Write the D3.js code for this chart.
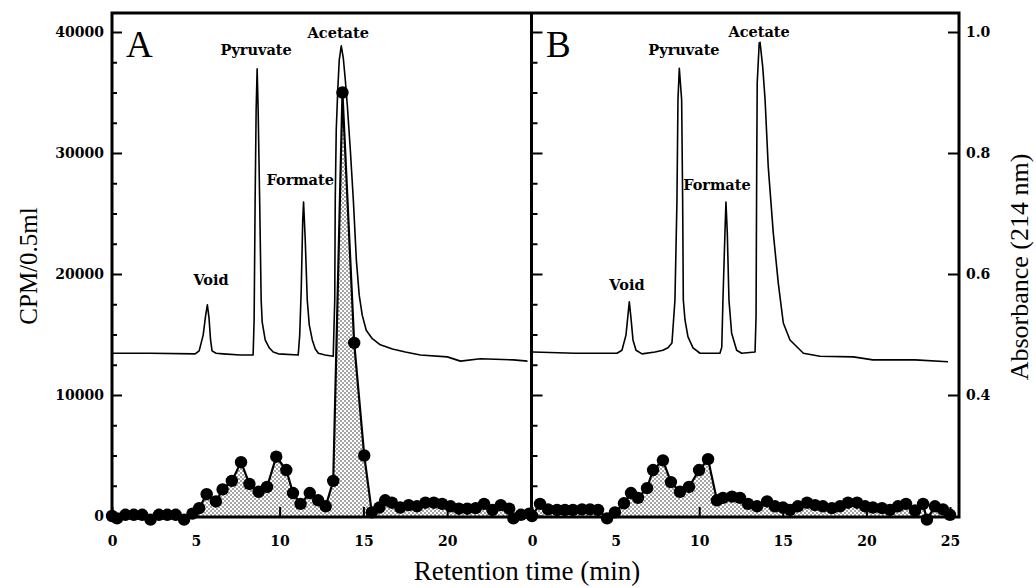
<!DOCTYPE html>
<html>
<head>
<meta charset="utf-8">
<script src="https://cdn.jsdelivr.net/npm/d3@7"></script>
<style>
	body{margin:0;background:#fff;}
	svg{display:block;}
</style>
</head>
<body>
<div id="chart"></div>
<script>

//radioactivity fractions, panel A (time in min, CPM/0.5ml)
const timeA = [0.0, 0.3, 0.8, 1.3, 1.8, 2.3, 2.8, 3.3, 3.8, 4.3, 4.8, 5.2, 5.65, 6.2, 6.6, 7.15, 7.7, 8.2, 8.75, 9.25, 9.8, 10.4, 10.8, 11.25, 11.8, 12.3, 12.75, 13.2, 13.75, 14.45, 15.05, 15.5, 15.95, 16.3, 16.7, 17.2, 17.7, 18.2, 18.7, 19.2, 19.7, 20.2, 20.7, 21.2, 21.7, 22.2, 22.7, 23.2, 23.7, 23.95, 24.4, 24.9];
const cpmA = [0, -200, 100, 100, 100, -300, 100, 100, 100, -300, 200, 650, 1800, 1200, 2200, 2900, 4450, 2650, 2000, 2400, 4900, 3800, 1900, 1000, 1900, 1300, 800, 2900, 35000, 14300, 5000, 300, 700, 1300, 1100, 700, 900, 800, 1100, 1100, 1000, 800, 600, 600, 650, 1000, 500, 900, 600, -200, 100, 200];

//radioactivity fractions, panel B
const timeB = [0.0, 0.48, 0.96, 1.5, 1.97, 2.45, 2.99, 3.47, 3.95, 4.49, 4.96, 5.5, 5.92, 6.34, 6.88, 7.24, 7.83, 8.31, 8.85, 9.39, 9.99, 10.53, 11.06, 11.42, 11.96, 12.44, 12.92, 13.46, 14.06, 14.53, 15.01, 15.43, 15.9, 16.45, 16.93, 17.4, 17.94, 18.42, 18.9, 19.44, 19.92, 20.39, 20.93, 21.41, 21.89, 22.37, 22.91, 23.39, 23.62, 24.1, 24.58, 25.0];
const cpmB = [0, 1000, 550, 500, 500, 500, 550, 550, 500, -200, 300, 1050, 1900, 1500, 2300, 3800, 4600, 2800, 2000, 2400, 3800, 4700, 1300, 1500, 1600, 1500, 1000, 800, 1200, 800, 700, 500, 800, 1100, 900, 800, 650, 800, 1100, 1100, 800, 700, 650, 500, 800, 1000, 450, 1000, -300, 800, 550, 100];

//absorbance trace, panel A
const traceTimeA = [0.06, 2.27, 4.96, 5.20, 5.44, 5.59, 5.69, 5.79, 5.88, 5.97, 6.21, 6.63, 7.65, 8.36, 8.42, 8.48, 8.54, 8.60, 8.66, 8.72, 8.81, 8.90, 8.96, 9.14, 9.38, 9.62, 9.92, 11.11, 11.20, 11.29, 11.38, 11.43, 11.53, 11.65, 11.77, 11.95, 12.13, 12.31, 12.72, 13.20, 13.29, 13.32, 13.38, 13.47, 13.56, 13.68, 13.80, 13.92, 14.04, 14.22, 14.40, 14.58, 14.75, 14.93, 15.17, 15.53, 16.01, 16.73, 17.50, 18.40, 20.01, 20.79, 21.98, 23.95, 24.79];
const traceAbsA = [0.469, 0.469, 0.468, 0.473, 0.499, 0.532, 0.549, 0.527, 0.491, 0.473, 0.469, 0.468, 0.466, 0.466, 0.466, 0.524, 0.722, 0.871, 0.939, 0.871, 0.722, 0.557, 0.521, 0.491, 0.478, 0.471, 0.468, 0.466, 0.499, 0.574, 0.689, 0.719, 0.656, 0.557, 0.516, 0.491, 0.476, 0.469, 0.466, 0.464, 0.557, 0.722, 0.838, 0.904, 0.954, 0.977, 0.957, 0.921, 0.879, 0.805, 0.722, 0.623, 0.565, 0.532, 0.507, 0.493, 0.483, 0.476, 0.471, 0.466, 0.463, 0.456, 0.460, 0.458, 0.456];

//absorbance trace, panel B
const traceTimeB = [0.06, 2.57, 5.08, 5.38, 5.62, 5.74, 5.82, 5.92, 6.04, 6.22, 6.58, 7.36, 7.83, 8.13, 8.37, 8.55, 8.67, 8.73, 8.81, 8.95, 9.01, 9.05, 9.15, 9.33, 9.63, 10.05, 11.24, 11.35, 11.42, 11.54, 11.60, 11.68, 11.78, 11.94, 12.24, 12.54, 13.34, 13.40, 13.44, 13.47, 13.59, 13.64, 13.80, 13.94, 14.13, 14.43, 14.73, 15.03, 15.43, 16.23, 17.22, 19.22, 20.39, 22.91, 24.88];
const traceAbsB = [0.471, 0.469, 0.469, 0.474, 0.499, 0.532, 0.554, 0.527, 0.491, 0.474, 0.468, 0.471, 0.474, 0.478, 0.486, 0.557, 0.722, 0.888, 0.940, 0.888, 0.722, 0.557, 0.524, 0.496, 0.478, 0.469, 0.469, 0.479, 0.557, 0.668, 0.719, 0.668, 0.557, 0.502, 0.474, 0.469, 0.471, 0.529, 0.777, 0.916, 0.982, 0.983, 0.942, 0.888, 0.777, 0.668, 0.585, 0.519, 0.491, 0.469, 0.464, 0.463, 0.458, 0.458, 0.455];

//peak names and where they sit (time, absorbance)
const peakNames = ["Void", "Pyruvate", "Formate", "Acetate"];
const peakTimeA = [5.91, 8.60, 11.23, 13.50];
const peakAbsA = [0.582, 0.962, 0.747, 0.990];
const peakTimeB = [5.68, 9.09, 11.06, 13.58];
const peakAbsB = [0.574, 0.962, 0.739, 0.992];

//tick values
const timeTicks = [0, 5, 10, 15, 20, 25];
const cpmTicks = [0, 10000, 20000, 30000, 40000];
const cpmMinorTicks = [2500, 5000, 7500, 12500, 15000, 17500, 22500, 25000, 27500, 32500, 35000, 37500];
const absTicks = [0.4, 0.6, 0.8, 1.0];


function graph(){

	//sizing
	let width = 1036;
	let height = 588;
	let frame = {left:112, mid:531.5, right:959, top:13, bottom:517};

	let svg = d3.select("#chart")
		.append("svg")
		.attr("width", width)
		.attr("height", height);

	//stipple for the fraction areas
	let pat = svg.append("defs").append("pattern")
		.attr("id", "stipple")
		.attr("width", 4).attr("height", 4)
		.attr("patternUnits", "userSpaceOnUse");
	pat.append("rect").attr("width", 4).attr("height", 4).attr("fill", "#fff");
	pat.append("circle").attr("cx", 1).attr("cy", 1).attr("r", 0.8).attr("fill", "#333");
	pat.append("circle").attr("cx", 3).attr("cy", 3).attr("r", 0.8).attr("fill", "#333");

	//scales
	const yCpm = d3.scaleLinear().domain([0, 40000]).range([516, 32]);
	const yAbs = d3.scaleLinear().domain([0.2, 1.0]).range([516, 32]);
	const xA = d3.scaleLinear().domain([0, 25]).range([frame.left, 531]);
	const xB = d3.scaleLinear().domain([0, 25]).range([532, 950]);

	const tickFont = (g)=>{
		g.attr("font-family", "DejaVu Serif")
			.attr("font-size", 14)
			.attr("font-weight", "bold");
		g.select(".domain").remove();
		g.selectAll("line").attr("stroke-width", 2);
	};

	//panels
	const panels = [
		{x:xA, time:timeA, cpm:cpmA, tt:traceTimeA, ta:traceAbsA, pt:peakTimeA, pa:peakAbsA, letter:"A", hide25:true},
		{x:xB, time:timeB, cpm:cpmB, tt:traceTimeB, ta:traceAbsB, pt:peakTimeB, pa:peakAbsB, letter:"B", hide25:false}
	];

	panels.forEach((p)=>{

		let pts = p.time.map((t,i)=>{ return {t:t, v:p.cpm[i]}; });
		let g = svg.append("g");

		//stippled area under fractions
		const area = d3.area()
			.x((d)=>{ return p.x(d.t); })
			.y0(yCpm(0))
			.y1((d)=>{ return yCpm(Math.max(d.v, 0)); });

		g.append("path")
			.datum(pts)
			.attr("d", area)
			.attr("fill", "url(#stipple)");

		//x axis, ticks pointing up
		g.append("g")
			.attr("transform", `translate(0,${frame.bottom})`)
			.call(d3.axisBottom(p.x)
				.tickValues(timeTicks)
				.tickSizeInner(-10)
				.tickSizeOuter(0)
				.tickPadding(19)
				.tickFormat((d)=>{ return (p.hide25 && d===25) ? "" : d; }))
			.call(tickFont);

		//fraction line and dots
		const line = d3.line()
			.x((d)=>{ return p.x(d.t); })
			.y((d)=>{ return yCpm(d.v); });

		g.append("path")
			.datum(pts)
			.attr("d", line)
			.attr("fill", "none")
			.attr("stroke", "#000")
			.attr("stroke-width", 2.2);

		g.selectAll(".dot")
			.data(pts)
			.enter().append("circle")
			.attr("class", "dot")
			.attr("cx", (d)=>{ return p.x(d.t); })
			.attr("cy", (d)=>{ return yCpm(d.v); })
			.attr("r", 6.2)
			.attr("fill", "#000");

		//absorbance trace
		let tr = p.tt.map((t,i)=>{ return [t, p.ta[i]]; });
		g.append("path")
			.datum(tr)
			.attr("d", d3.line()
				.x((d)=>{ return p.x(d[0]); })
				.y((d)=>{ return yAbs(d[1]); }))
			.attr("fill", "none")
			.attr("stroke", "#000")
			.attr("stroke-width", 1.6)
			.attr("stroke-linejoin", "round");

		//peak names
		g.selectAll(".peak")
			.data(peakNames)
			.enter().append("text")
			.attr("class", "peak")
			.attr("x", (d,i)=>{ return p.x(p.pt[i]); })
			.attr("y", (d,i)=>{ return yAbs(p.pa[i]); })
			.attr("text-anchor", "middle")
			.attr("font-family", "DejaVu Serif")
			.attr("font-weight", "bold")
			.attr("font-size", 14.5)
			.text((d)=>{ return d; });

		//panel letter
		g.append("text")
			.attr("x", p.x(0) + 14)
			.attr("y", 57)
			.attr("font-family", "Liberation Serif")
			.attr("font-size", 37)
			.text(p.letter);
	});

	//left axis, panel A
	svg.append("g")
		.attr("transform", `translate(${frame.left},0)`)
		.call(d3.axisLeft(yCpm).tickValues(cpmTicks).tickSizeInner(-10).tickSizeOuter(0).tickPadding(8).tickFormat(d3.format("d")))
		.call(tickFont);
	svg.append("g")
		.attr("transform", `translate(${frame.left},0)`)
		.call(d3.axisLeft(yCpm).tickValues(cpmMinorTicks).tickSize(-5).tickFormat(""))
		.call(tickFont);

	//left axis, panel B (no labels)
	svg.append("g")
		.attr("transform", `translate(${frame.mid},0)`)
		.call(d3.axisLeft(yCpm).tickValues(cpmTicks).tickSizeInner(-11).tickSizeOuter(0).tickFormat(""))
		.call(tickFont);
	svg.append("g")
		.attr("transform", `translate(${frame.mid},0)`)
		.call(d3.axisLeft(yCpm).tickValues(cpmMinorTicks).tickSize(-6).tickFormat(""))
		.call(tickFont);

	//right axis, absorbance
	svg.append("g")
		.attr("transform", `translate(${frame.right},0)`)
		.call(d3.axisRight(yAbs).tickValues(absTicks).tickSizeInner(-11).tickSizeOuter(0).tickPadding(7).tickFormat(d3.format(".1f")))
		.call(tickFont);

	//frame
	svg.append("rect")
		.attr("x", frame.left)
		.attr("y", frame.top)
		.attr("width", frame.right - frame.left)
		.attr("height", frame.bottom - frame.top)
		.attr("fill", "none")
		.attr("stroke", "#000")
		.attr("stroke-width", 3);
	svg.append("line")
		.attr("x1", frame.mid).attr("x2", frame.mid)
		.attr("y1", frame.top).attr("y2", frame.bottom)
		.attr("stroke", "#000")
		.attr("stroke-width", 3);

	//axis titles
	svg.append("text")
		.attr("transform", "translate(37,266) rotate(-90)")
		.attr("text-anchor", "middle")
		.attr("font-family", "Liberation Serif")
		.attr("font-size", 25)
		.text("CPM/0.5ml");

	svg.append("text")
		.attr("transform", "translate(1028,267) rotate(-90)")
		.attr("text-anchor", "middle")
		.attr("font-family", "Liberation Serif")
		.attr("font-size", 26)
		.text("Absorbance (214 nm)");

	svg.append("text")
		.attr("x", 527)
		.attr("y", 580)
		.attr("text-anchor", "middle")
		.attr("font-family", "Liberation Serif")
		.attr("font-size", 27)
		.text("Retention time (min)");

} //graph

graph();
</script>
</body>
</html>
